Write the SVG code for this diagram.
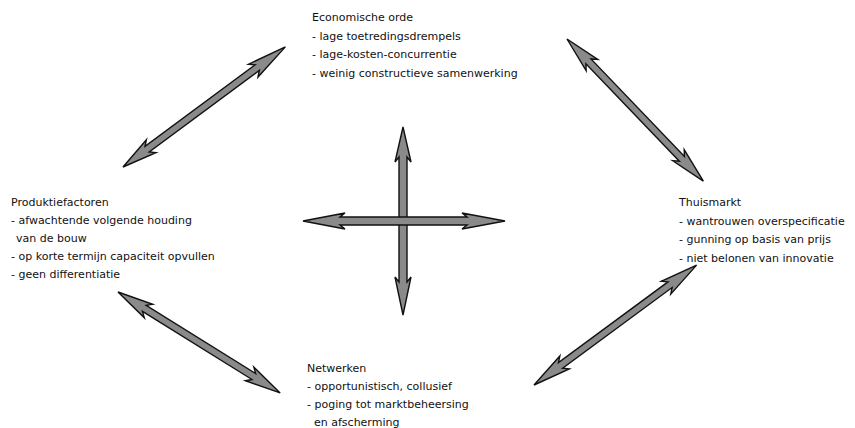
<svg xmlns="http://www.w3.org/2000/svg" width="855" height="428" viewBox="0 0 855 428">
<style>
  text { font-family: "DejaVu Sans", Verdana, sans-serif; font-size: 11px; fill: #111; }
  .arr { fill: #8a8a8a; stroke: #111; stroke-width: 1.4; stroke-linejoin: miter; }
</style>
<rect width="855" height="428" fill="#fff"/>
<g id="connectors">
  <polygon class="arr" transform="translate(123,167) rotate(-36.5)" points="0,0 35,-8 30,-3.5 167,-3.5 162,-8 202,0 162,8 167,3.5 30,3.5 35,8"/>
  <polygon class="arr" transform="translate(567,39) rotate(46.2)" points="0,0 36,-8 31,-3.5 166,-3.5 161,-8 197,0 161,8 166,3.5 31,3.5 36,8"/>
  <polygon class="arr" transform="translate(118,292) rotate(31.9)" points="0,0 36,-8 31,-3.5 160,-3.5 155,-8 191,0 155,8 160,3.5 31,3.5 36,8"/>
  <polygon class="arr" transform="translate(534,385) rotate(-36.4)" points="0,0 38,-8 33,-3.5 169,-3.5 164,-8 202,0 164,8 169,3.5 33,3.5 38,8"/>
  <polygon class="arr" points="403,127 411,162 407,157 407,282 411,277 403,315 395,277 399,282 399,157 395,162"/>
  <polygon class="arr" points="303,221 345,213 340,217 467,217 462,213 505,221 462,229 467,225 340,225 345,229"/>
</g>
<g id="economische-orde">
  <text x="312" y="21">Economische orde</text>
  <text x="312" y="39.5">- lage toetredingsdrempels</text>
  <text x="312" y="58">- lage-kosten-concurrentie</text>
  <text x="312" y="76.5">- weinig constructieve samenwerking</text>
</g>
<g id="produktiefactoren">
  <text x="11" y="206">Produktiefactoren</text>
  <text x="11" y="224">- afwachtende volgende houding</text>
  <text x="16" y="242">van de bouw</text>
  <text x="11" y="260">- op korte termijn capaciteit opvullen</text>
  <text x="11" y="278">- geen differentiatie</text>
</g>
<g id="thuismarkt">
  <text x="679" y="206">Thuismarkt</text>
  <text x="679" y="224.5">- wantrouwen overspecificatie</text>
  <text x="679" y="243">- gunning op basis van prijs</text>
  <text x="679" y="261.5">- niet belonen van innovatie</text>
</g>
<g id="netwerken">
  <text x="307" y="372">Netwerken</text>
  <text x="307" y="390">- opportunistisch, collusief</text>
  <text x="307" y="408">- poging tot marktbeheersing</text>
  <text x="314" y="426">en afscherming</text>
</g>
</svg>
